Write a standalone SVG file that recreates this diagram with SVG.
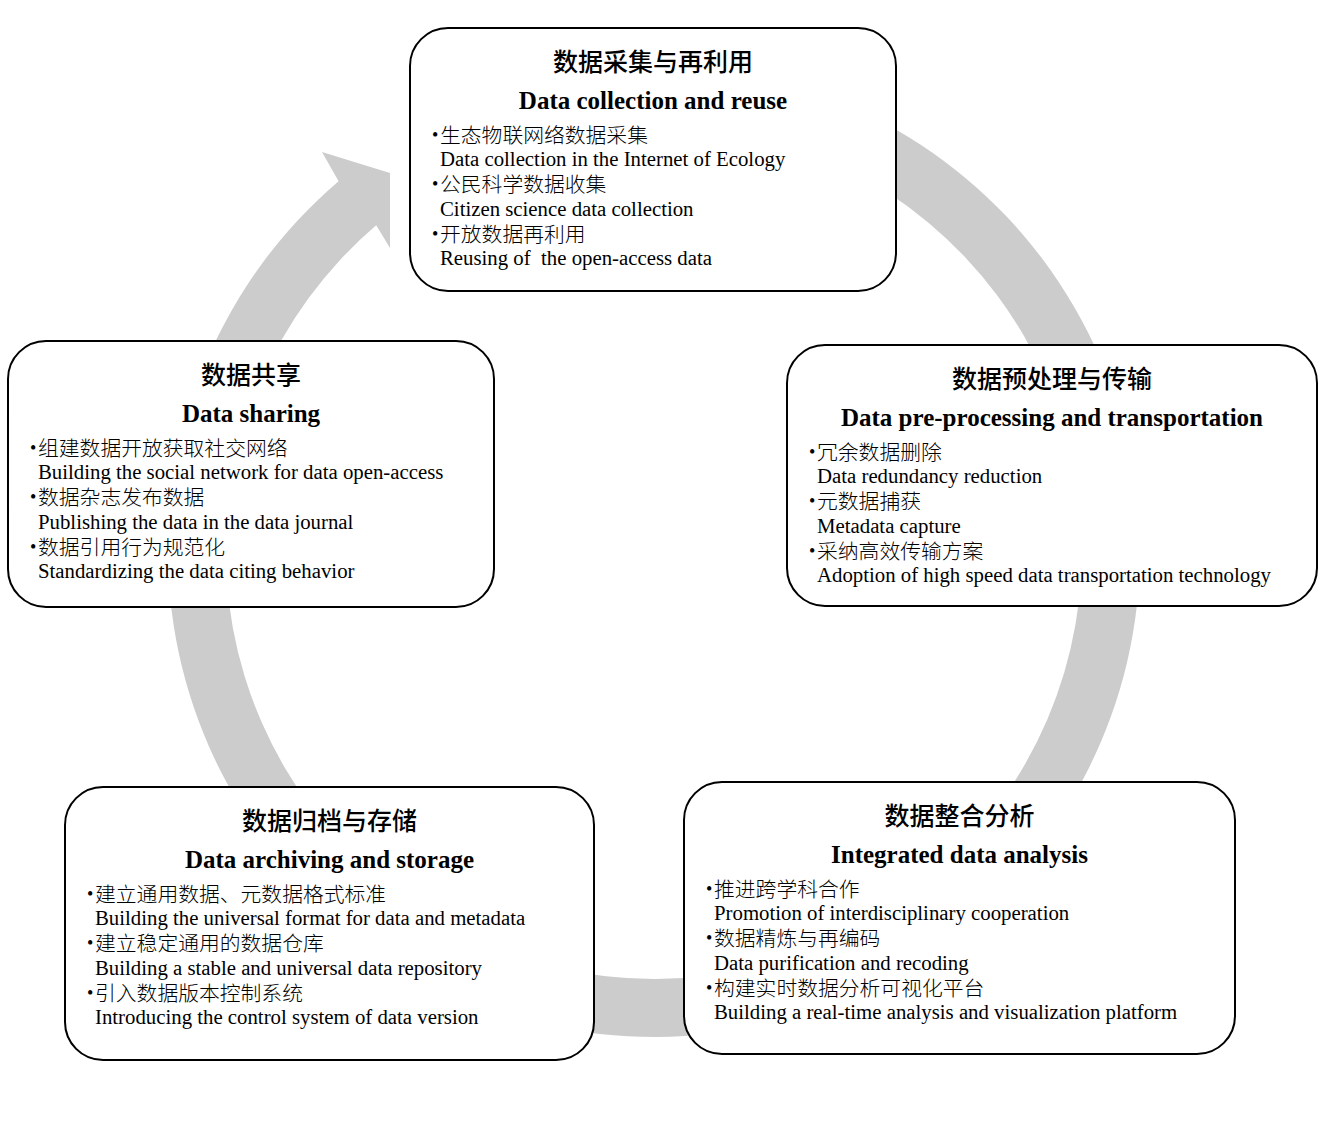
<svg xmlns="http://www.w3.org/2000/svg" width="1327" height="1125" viewBox="0 0 1327 1125">
<style>
.box{fill:#fff;stroke:#000;stroke-width:2}
.ring{fill:#cccccc;stroke:none}
.tcn{font-family:"Liberation Serif","Noto Sans CJK SC",serif;font-size:25px;font-weight:500;text-anchor:middle;fill:#000}
.ten{font-family:"Liberation Serif","Noto Sans CJK SC",serif;font-size:25px;font-weight:bold;text-anchor:middle;fill:#000}
.t{font-family:"Liberation Serif","Noto Sans CJK SC",serif;font-size:20.8px;fill:#000}
.c{font-weight:300}
.b{font-size:18px;font-weight:400}
</style>
<rect width="1327" height="1125" fill="#fff"/>
<g id="connectors">
<path class="ring" d="M654,65 A486,486 0 1 1 338.6,181.2 L322,152 L390,173 L390,248 L376.2,225.3 A428,428 0 1 0 654,123 Z"/>
</g>
<g id="node-collection">
<rect class="box" x="410" y="28" width="486" height="263" rx="38" ry="38"/>
<text class="tcn" x="653" y="71">数据采集与再利用</text>
<text class="ten" x="653" y="109">Data collection and reuse</text>
<text class="t c" y="142.5"><tspan class="b" x="432" dy="-1.5">•</tspan><tspan x="440" dy="1.5">生态物联网络数据采集</tspan></text>
<text class="t" x="440" y="166">Data collection in the Internet of Ecology</text>
<text class="t c" y="191.5"><tspan class="b" x="432" dy="-1.5">•</tspan><tspan x="440" dy="1.5">公民科学数据收集</tspan></text>
<text class="t" x="440" y="216">Citizen science data collection</text>
<text class="t c" y="241.5"><tspan class="b" x="432" dy="-1.5">•</tspan><tspan x="440" dy="1.5">开放数据再利用</tspan></text>
<text class="t" x="440" y="265" xml:space="preserve">Reusing of  the open-access data</text>
</g>
<g id="node-sharing">
<rect class="box" x="8" y="341" width="486" height="266" rx="38" ry="38"/>
<text class="tcn" x="251" y="384">数据共享</text>
<text class="ten" x="251" y="422">Data sharing</text>
<text class="t c" y="455.5"><tspan class="b" x="30" dy="-1.5">•</tspan><tspan x="38" dy="1.5">组建数据开放获取社交网络</tspan></text>
<text class="t" x="38" y="479">Building the social network for data open-access</text>
<text class="t c" y="504.5"><tspan class="b" x="30" dy="-1.5">•</tspan><tspan x="38" dy="1.5">数据杂志发布数据</tspan></text>
<text class="t" x="38" y="529">Publishing the data in the data journal</text>
<text class="t c" y="554.5"><tspan class="b" x="30" dy="-1.5">•</tspan><tspan x="38" dy="1.5">数据引用行为规范化</tspan></text>
<text class="t" x="38" y="578">Standardizing the data citing behavior</text>
</g>
<g id="node-preprocessing">
<rect class="box" x="787" y="345" width="530" height="261" rx="38" ry="38"/>
<text class="tcn" x="1052" y="388">数据预处理与传输</text>
<text class="ten" x="1052" y="426">Data pre-processing and transportation</text>
<text class="t c" y="459.5"><tspan class="b" x="809" dy="-1.5">•</tspan><tspan x="817" dy="1.5">冗余数据删除</tspan></text>
<text class="t" x="817" y="483">Data redundancy reduction</text>
<text class="t c" y="508.5"><tspan class="b" x="809" dy="-1.5">•</tspan><tspan x="817" dy="1.5">元数据捕获</tspan></text>
<text class="t" x="817" y="533">Metadata capture</text>
<text class="t c" y="558.5"><tspan class="b" x="809" dy="-1.5">•</tspan><tspan x="817" dy="1.5">采纳高效传输方案</tspan></text>
<text class="t" x="817" y="582">Adoption of high speed data transportation technology</text>
</g>
<g id="node-analysis">
<rect class="box" x="684" y="782" width="551" height="272" rx="38" ry="38"/>
<text class="tcn" x="959.5" y="825">数据整合分析</text>
<text class="ten" x="959.5" y="863">Integrated data analysis</text>
<text class="t c" y="896.5"><tspan class="b" x="706" dy="-1.5">•</tspan><tspan x="714" dy="1.5">推进跨学科合作</tspan></text>
<text class="t" x="714" y="920">Promotion of interdisciplinary cooperation</text>
<text class="t c" y="945.5"><tspan class="b" x="706" dy="-1.5">•</tspan><tspan x="714" dy="1.5">数据精炼与再编码</tspan></text>
<text class="t" x="714" y="970">Data purification and recoding</text>
<text class="t c" y="995.5"><tspan class="b" x="706" dy="-1.5">•</tspan><tspan x="714" dy="1.5">构建实时数据分析可视化平台</tspan></text>
<text class="t" x="714" y="1019">Building a real-time analysis and visualization platform</text>
</g>
<g id="node-archiving">
<rect class="box" x="65" y="787" width="529" height="273" rx="38" ry="38"/>
<text class="tcn" x="329.5" y="830">数据归档与存储</text>
<text class="ten" x="329.5" y="868">Data archiving and storage</text>
<text class="t c" y="901.5"><tspan class="b" x="87" dy="-1.5">•</tspan><tspan x="95" dy="1.5">建立通用数据、元数据格式标准</tspan></text>
<text class="t" x="95" y="925">Building the universal format for data and metadata</text>
<text class="t c" y="950.5"><tspan class="b" x="87" dy="-1.5">•</tspan><tspan x="95" dy="1.5">建立稳定通用的数据仓库</tspan></text>
<text class="t" x="95" y="975">Building a stable and universal data repository</text>
<text class="t c" y="1000.5"><tspan class="b" x="87" dy="-1.5">•</tspan><tspan x="95" dy="1.5">引入数据版本控制系统</tspan></text>
<text class="t" x="95" y="1024">Introducing the control system of data version</text>
</g>
</svg>
